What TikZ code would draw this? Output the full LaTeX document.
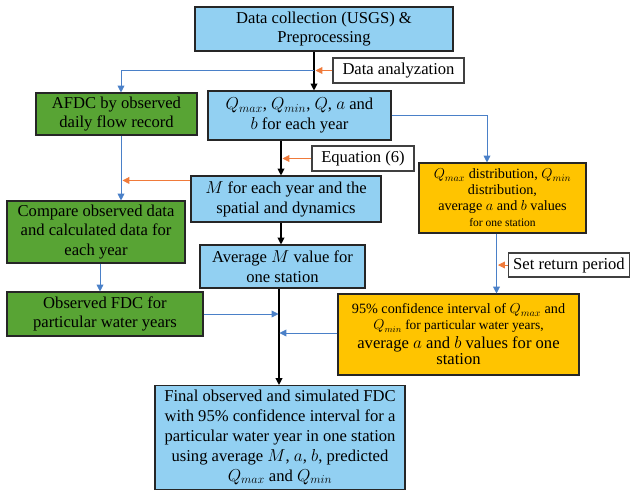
\documentclass[tikz,border=0pt]{standalone}
\usepackage{fontspec}
\setmainfont{Liberation Serif}
\usetikzlibrary{arrows.meta}

\definecolor{boxblue}{HTML}{92D0F2}
\definecolor{boxgreen}{HTML}{58A434}
\definecolor{boxorange}{HTML}{FFC400}
\definecolor{lnblue}{HTML}{4A80C8}
\definecolor{lnorange}{HTML}{F07A3A}

\newcommand{\bigtxt}{\rmfamily\fontsize{16.6}{19.8}\selectfont}
\newcommand{\midtxt}{\rmfamily\fontsize{14.2}{16}\selectfont}

\begin{document}
\begin{tikzpicture}[x=1pt, y=-1pt, every node/.style={font=\bigtxt, align=center, inner sep=0pt}, >={Triangle[length=2.4mm, width=2.4mm]},
	sz/.style 2 args={minimum width=#1, minimum height=#2},
	fbox/.style={draw=black!85, line width=1.1pt},
	blubox/.style={fbox, fill=boxblue},
	grnbox/.style={fbox, fill=boxgreen},
	orgbox/.style={fbox, fill=boxorange},
	note/.style={draw=black!75, line width=1.1pt, fill=white},
	trunk/.style={->, line width=1.1pt},
	bflow/.style={->, lnblue, line width=0.8pt},
	oflow/.style={->, lnorange, line width=0.8pt, shorten >=1.5pt}]
	\useasboundingbox (0,0) rectangle (631,491);
	% boxes
	\node[blubox, sz={258}{44}] (data) at (324,29) {Data collection (USGS) \&\\Preprocessing};
	\node[note, sz={131}{25}] (analyz) at (398.5,70.5) {Data analyzation};
	\node[grnbox, sz={161}{42}] (afdc) at (116.5,114) {AFDC by observed\\daily flow record};
	\node[blubox, sz={183}{49}] (qvals) at (299.5,115.5) {$Q_{max}$, $Q_{min}$, $Q$, $a$ and\\$b$ for each year};
	\node[note, sz={102}{25}] (eqn) at (363,158.5) {Equation (6)};
	\node[blubox, sz={190}{46}] (mval) at (286,199) {$M$ for each year and the\\spatial and dynamics};
	\node[grnbox, sz={178}{62}] (compare) at (96,232) {Compare observed data\\and calculated data for\\each year};
	\node[orgbox, sz={167}{70}, font=\midtxt] (qdist) at (502.5,198) {$Q_{max}$ distribution, $Q_{min}$\\distribution,\\average $a$ and $b$ values\\{\fontsize{11.5}{16}\selectfont for one station}};
	\node[blubox, sz={165}{43}] (avgm) at (282.5,266.5) {Average $M$ value for\\one station};
	\node[note, sz={121}{24}] (setret) at (569,265) {Set return period};
	\node[orgbox, sz={241}{81}, font=\midtxt] (ci) at (458.5,334.5) {95\% confidence interval of $Q_{max}$ and\\{\fontsize{13.4}{15}\selectfont$Q_{min}$ for particular water years,}\\[3pt]{\bigtxt average $a$ and $b$ values for one}\\{\bigtxt station}};
	\node[grnbox, sz={196}{44}] (obsfdc) at (105,314) {Observed FDC for\\particular water years};
	\node[blubox, sz={250}{104}] (final) at (280,437.5) {Final observed and simulated FDC\\with 95\% confidence interval for a\\particular water year in one station\\using average $M$, $a$, $b$, predicted\\$Q_{max}$ and $Q_{min}$};
	% line positions
	\coordinate (tA) at (314,0);
	\coordinate (tB) at (121,0);
	\coordinate (tC) at (281,0);
	\coordinate (tD) at (487,0);
	\coordinate (tE) at (496.5,0);
	\coordinate (tF) at (100,0);
	\coordinate (tG) at (279,0);
	\coordinate (mvIn) at ([yshift=-5pt]mval.north west);
	\coordinate (ciOut) at ([yshift=1.5pt]ci.west);
	% connectors
	\draw[trunk] (data.south -| tA) -- (qvals.north -| tA);
	\draw[bflow] (tA |- analyz.west) -| (afdc.north -| tB);
	\draw[oflow] (analyz.west) -- (tA |- analyz.west);
	\draw[bflow] (qvals.east) -| (qdist.north -| tD);
	\draw[trunk] (qvals.south -| tC) -- (mval.north -| tC);
	\draw[oflow] (eqn.west) -- (tC |- eqn.west);
	\draw[bflow] (afdc.south -| tB) -- (compare.north -| tB);
	\draw[oflow] (mvIn) -- (tB |- mvIn);
	\draw[trunk] (mval.south -| tC) -- (avgm.north -| tC);
	\draw[bflow] (qdist.south -| tE) -- (ci.north -| tE);
	\draw[oflow] (setret.west) -- (tE |- setret.west);
	\draw[bflow] (compare.south -| tF) -- (obsfdc.north -| tF);
	\draw[trunk] (avgm.south -| tG) -- (final.north -| tG);
	\draw[bflow, shorten >=0.5pt] (obsfdc.east) -- (tG |- obsfdc.east);
	\draw[bflow, shorten >=0.5pt] (ciOut) -- (tG |- ciOut);
\end{tikzpicture}
\end{document}
